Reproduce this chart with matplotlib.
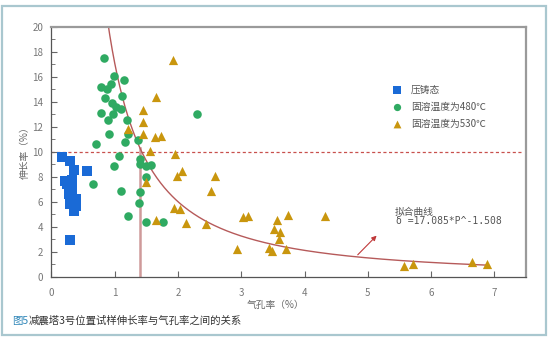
import numpy as np
import matplotlib
matplotlib.use("Agg")
import matplotlib.pyplot as plt
from matplotlib.patches import Rectangle
from matplotlib.ticker import FixedLocator, MultipleLocator

plt.rcParams["font.family"] = ["Noto Sans CJK SC", "DejaVu Sans"]

# 压铸态
cast_x = [0.16, 0.30, 0.36, 0.56, 0.22, 0.32, 0.27, 0.33, 0.28, 0.39,
          0.29, 0.39, 0.36, 0.29, 0.25, 0.35]
cast_y = [9.55, 9.3, 8.55, 8.5, 7.65, 7.75, 6.95, 7.0, 6.6, 6.25,
          5.8, 5.65, 5.25, 2.95, 7.4, 5.5]

# 固溶温度为480℃
t480_x = [0.83, 0.99, 1.15, 0.79, 0.87, 0.94, 0.85, 1.11, 0.95, 1.02,
          1.10, 0.78, 0.97, 0.90, 1.19, 0.91, 1.21, 0.71, 1.16, 1.36,
          1.07, 0.99, 1.40, 1.40, 1.49, 1.57, 2.30, 0.65, 1.50, 1.10,
          1.40, 1.38, 1.21, 1.50, 1.77]
t480_y = [17.5, 16.1, 15.75, 15.15, 15.05, 15.4, 14.3, 14.5, 13.9, 13.55,
          13.45, 13.1, 13.0, 12.55, 12.55, 11.45, 11.45, 10.65, 10.8, 10.95,
          9.7, 8.85, 9.45, 9.0, 8.85, 8.95, 13.05, 7.45, 7.95, 6.85,
          6.75, 5.9, 4.85, 4.4, 4.35]

# 固溶温度为530℃
t530_x = [1.92, 1.66, 1.44, 1.45, 1.21, 1.44, 1.64, 1.73, 1.55, 1.95,
          2.07, 1.99, 2.58, 1.49, 2.52, 1.94, 2.03, 1.65, 2.12, 2.44,
          2.94, 3.03, 3.10, 3.44, 3.48, 3.56, 3.52, 3.61, 3.59, 3.74,
          4.32, 3.70, 5.57, 5.72, 6.65, 6.89]
t530_y = [17.35, 14.4, 13.35, 12.35, 11.8, 11.45, 11.2, 11.25, 10.05, 9.8,
          8.45, 8.05, 8.1, 7.6, 6.85, 5.5, 5.45, 4.55, 4.3, 4.2,
          2.2, 4.75, 4.9, 2.3, 2.1, 4.55, 3.8, 3.6, 3.0, 4.95,
          4.9, 2.2, 0.9, 1.0, 1.15, 1.0]

x_ticks = [0, 1, 2, 3, 4, 5, 6, 7]

fit_a = 17.085
fit_b = -1.508
p_crit = 1.4
elong_limit = 10

fig = plt.figure(figsize=(5.5, 3.4), dpi=100)
fig.add_artist(Rectangle((0.004, 0.015), 0.988, 0.968, transform=fig.transFigure,
                         fill=False, edgecolor="#a9c7cf", linewidth=1.6, zorder=0))

ax = fig.add_axes([0.0936, 0.186, 0.8627, 0.735])
ax.set_xlim(0, 7.5)
ax.set_ylim(0, 20)
ax.set_autoscale_on(False)

# fitted curve, critical porosity and elongation limit
xf = np.linspace(0.88, 6.9, 300)
ax.plot(xf, fit_a * xf ** fit_b, color="#b65a5a", lw=1.0, zorder=2)
ax.plot([p_crit, p_crit], [0, fit_a * p_crit ** fit_b], color="#cf9a9a", lw=1.8, zorder=1)
ax.plot([0, 7.42], [elong_limit, elong_limit], color="#c8504d", lw=0.9,
        ls=(0, (2.5, 2)), zorder=1)

ax.scatter(cast_x, cast_y, marker="s", s=46, color="#1a6ad6", lw=0, zorder=3, label="压铸态")
ax.scatter(t480_x, t480_y, marker="o", s=38, color="#2faa62", lw=0, zorder=3,
           label="固溶温度为480℃")
ax.scatter(t530_x, t530_y, marker="^", s=44, color="#c9960e", lw=0, zorder=3,
           label="固溶温度为530℃")

x0 = 4.81
ax.annotate("", xy=(5.17, 3.45), xytext=(x0, fit_a * x0 ** fit_b),
            arrowprops=dict(arrowstyle="-|>", color="#c0393a", lw=0.8,
                            mutation_scale=7))
ax.text(5.42, 5.15, "拟合曲线", fontsize=7, color="#555555", va="center")
ax.text(5.45, 4.45, "δ =17.085*P^-1.508", fontsize=7, color="#555555", va="center",
        family=["DejaVu Sans Mono", "DejaVu Sans"])

leg = ax.legend(loc="upper left", bbox_to_anchor=(0.70, 0.805), frameon=False,
                fontsize=7, handletextpad=0.9, labelspacing=0.75, markerscale=0.85,
                handlelength=1.0)
for t in leg.get_texts():
    t.set_color("#555555")

ax.xaxis.set_major_locator(FixedLocator(x_ticks))
ax.yaxis.set_major_locator(MultipleLocator(2))
ax.yaxis.set_minor_locator(MultipleLocator(1))
ax.tick_params(axis="both", which="both", direction="in", colors="#666666",
               labelcolor="#777777", labelsize=7)
ax.tick_params(axis="y", which="major", length=4, pad=6)
ax.tick_params(axis="y", which="minor", length=3)
ax.tick_params(axis="x", which="major", length=4, labelbottom=False)

# x tick labels placed below the axis at each tick position
for v in x_ticks:
    ax.text(v, -0.045, str(v), transform=ax.get_xaxis_transform(), fontsize=7,
            color="#777777", ha="center", va="top", clip_on=False)

for side in ("top", "right"):
    ax.spines[side].set_color("#9a9a9a")
    ax.spines[side].set_linewidth(1.6)
for side in ("left", "bottom"):
    ax.spines[side].set_color("#555555")
    ax.spines[side].set_linewidth(0.9)

fig.text(276 / 550, 1 - 305 / 340, "气孔率（%）", fontsize=7, color="#666666",
         ha="center", va="center")
fig.text(25 / 550, 1 - 150 / 340, "伸长率（%）", fontsize=7, color="#666666",
         ha="center", va="center", rotation=90)

fig.text(12 / 550, 1 - 321 / 340, "图5", fontsize=7.5, color="#2f86b8", va="center")
fig.text(29 / 550, 1 - 321 / 340, "减震塔3号位置试样伸长率与气孔率之间的关系",
         fontsize=7.5, color="#333333", va="center")

fig.savefig("out.png", dpi=100)
